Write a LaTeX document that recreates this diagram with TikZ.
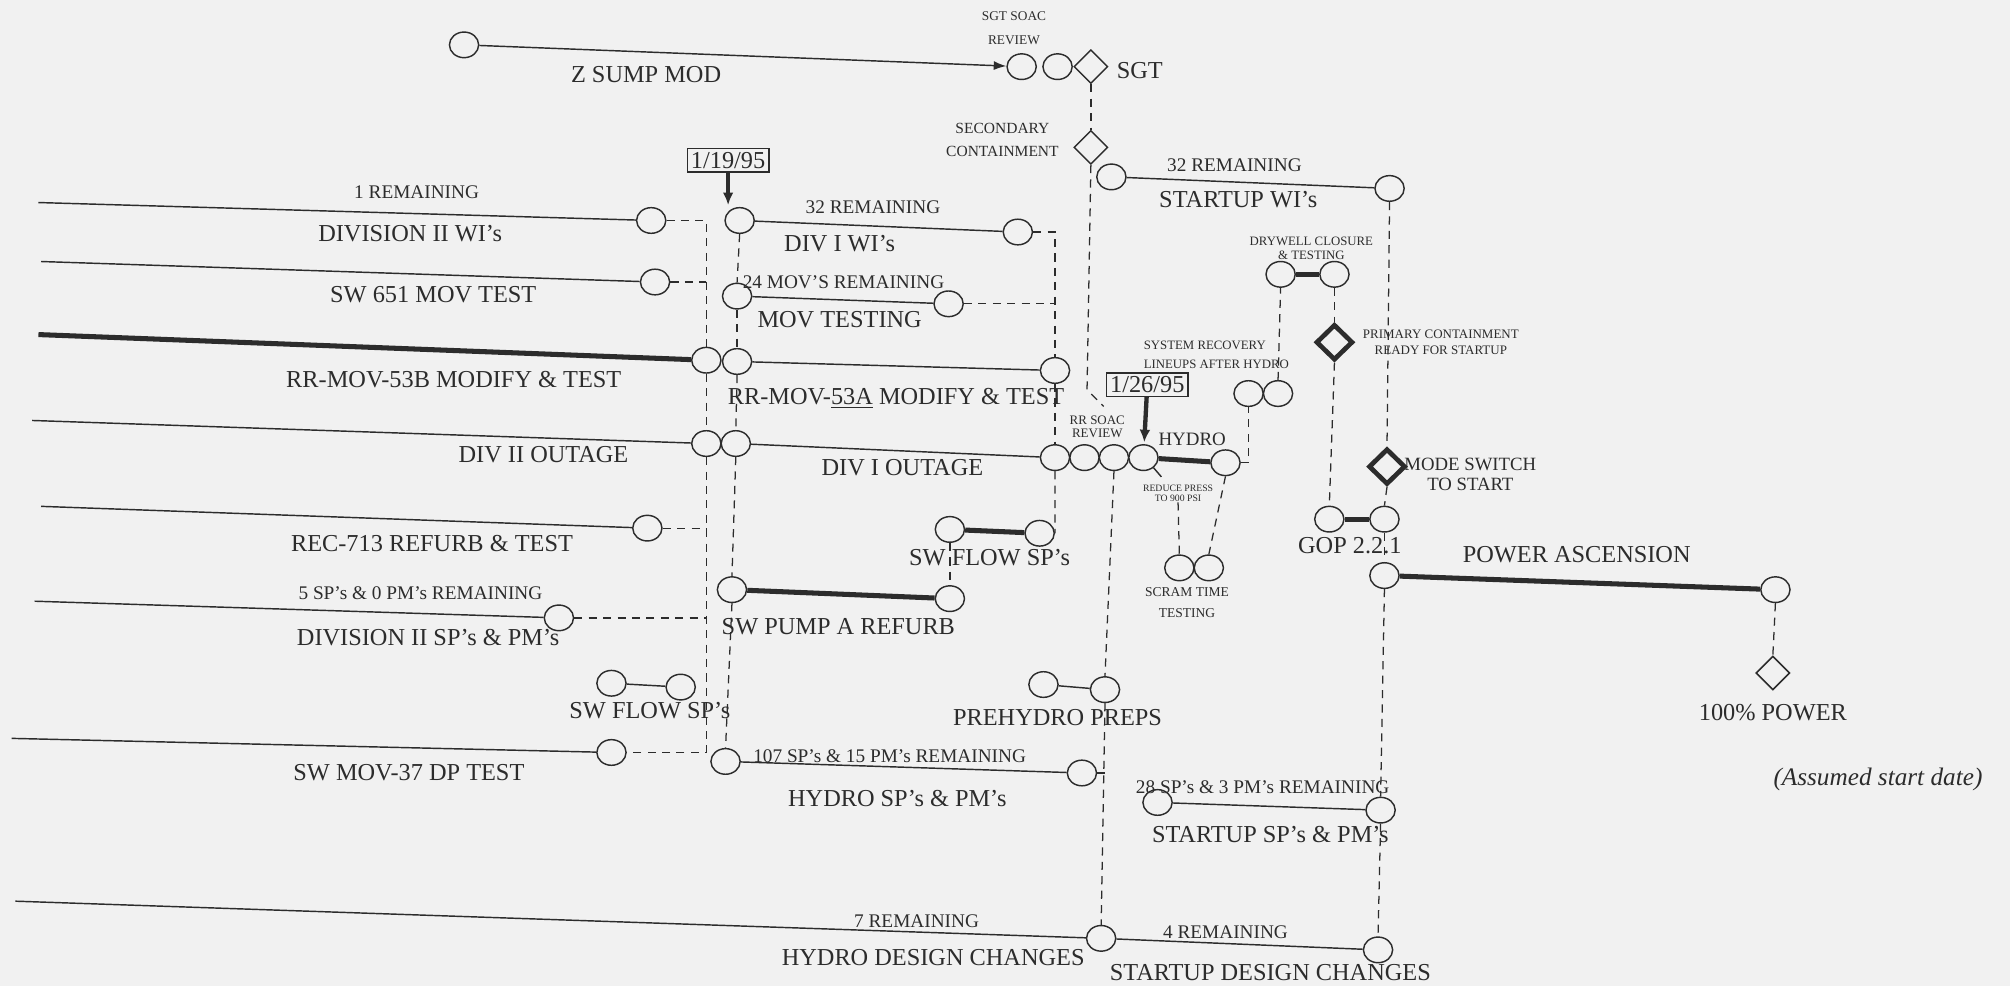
\documentclass[tikz,border=0pt]{standalone}
\usepackage{fontspec}
\setmainfont{Liberation Serif}
\usetikzlibrary{shapes.geometric,arrows.meta}

\definecolor{ink}{HTML}{2C2C2C}
\definecolor{paper}{HTML}{F1F1F1}

\begin{document}
\begin{tikzpicture}[
    x=0.025cm, y=-0.025cm,
    evt/.style={draw=ink, ellipse, line width=0.8pt, fill=paper,
        minimum width=0.57cm, minimum height=0.5cm, inner sep=0pt},
    gate/.style={draw=ink, diamond, line width=0.8pt, fill=paper,
        minimum width=0.66cm, minimum height=0.66cm, inner sep=0pt},
    keygate/.style={gate, line width=2.6pt,
        minimum width=0.72cm, minimum height=0.7cm},
    task/.style={draw=ink, line width=0.8pt},
    crit/.style={draw=ink, line width=2.8pt},
    tie/.style={draw=ink, line width=0.7pt, dash pattern=on 4.5pt off 3.5pt},
    lbl/.style={text=ink, inner sep=0pt, font=\fontsize{13.5}{15}\selectfont},
    rem/.style={text=ink, inner sep=0pt, font=\fontsize{10.7}{12}\selectfont},
    note/.style={text=ink, inner sep=0pt, align=center},
    datebox/.style={draw=ink, line width=0.8pt, text=ink, inner sep=2pt,
        font=\fontsize{13.5}{15}\selectfont},
    datearrow/.style={draw=ink, line width=2.4pt, shorten >=1pt,
        -{Latex[length=7pt,width=6pt]}},
]

% === Page ===
\useasboundingbox (0,0) rectangle (1568,769);
\fill[paper] (0,0) rectangle (1568,769);

% === Z sump mod / SGT ===
\node[evt] (zs) at (362,35) {};
\node[evt] (sg1) at (797,52) {};
\node[evt] (sg2) at (825,52) {};
\node[gate] (sgt) at (851,52) {};
\node[gate] (sec) at (851,115) {};
\node[lbl] (zsL) at (504,58) {Z SUMP MOD};
\node[lbl, anchor=west] (sgtL) at (871,55) {SGT};
\node[note, font=\fontsize{7.4}{13.5}\selectfont] (sgtR) at (791,22)
    {SGT SOAC\\REVIEW};
\node[note, font=\fontsize{8.6}{12.8}\selectfont] (secL) at (782,109)
    {SECONDARY\\CONTAINMENT};

% === Division II rows (left) ===
\coordinate (d2wiS) at (30,158);
\coordinate (sw651S) at (32,204);
\coordinate (b53S) at (30,261);
\coordinate (d2oS) at (25,328);
\coordinate (recS) at (32,395);
\coordinate (d2spS) at (27,469);
\coordinate (mov37S) at (9,576);
\coordinate (hdS) at (12,703);

\node[evt] (d2wi) at (508,172) {};
\node[evt] (sw651) at (511,220) {};
\node[evt] (b53) at (551,281) {};
\node[evt] (d2o) at (551,346) {};
\node[evt] (rec) at (505,412) {};
\node[evt] (d2sp) at (436,482) {};
\node[evt] (swfL1) at (477,533) {};
\node[evt] (swfL2) at (531,536) {};
\node[evt] (mov37) at (477,587) {};

\node[rem] (r1) at (325,150) {1 REMAINING};
\node[lbl] (d2wiL) at (320,182) {DIVISION II WI's};
\node[lbl] (sw651L) at (338,230) {SW 651 MOV TEST};
\node[lbl] (b53L) at (354,296) {RR-MOV-53B MODIFY \& TEST};
\node[lbl] (d2oL) at (424,355) {DIV II OUTAGE};
\node[lbl] (recL) at (337,424) {REC-713 REFURB \& TEST};
\node[rem] (r5) at (328,463) {5 SP's \& 0 PM's REMAINING};
\node[lbl] (d2spL) at (334,497) {DIVISION II SP's \& PM's};
\node[lbl] (swfLL) at (507,554) {SW FLOW SP's};
\node[lbl] (mov37L) at (319,603) {SW MOV-37 DP TEST};

% === Division I rows (middle) ===
\node[evt] (d1wi) at (577,172) {};
\node[evt] (d1we) at (794,181) {};
\node[evt] (mv1) at (575,231) {};
\node[evt] (mve) at (740,237) {};
\node[evt] (a53) at (575,282) {};
\node[evt] (a53e) at (823,289) {};
\node[evt] (d1o) at (574,346) {};
\node[evt] (sf1) at (741,413) {};
\node[evt] (sf2) at (811,416) {};
\node[evt] (swp1) at (571,460) {};
\node[evt] (swp2) at (741,467) {};
\node[evt] (pre1) at (814,534) {};
\node[evt] (pre2) at (862,538) {};
\node[evt] (hsp1) at (566,594) {};
\node[evt] (hsp2) at (844,603) {};
\node[evt] (hd2) at (859,732) {};

\node[datebox] (d119) at (568,125) {1/19/95};
\node[rem] (r32a) at (681,162) {32 REMAINING};
\node[lbl] (d1wiL) at (655,190) {DIV I WI's};
\node[rem] (r24) at (658,220) {24 MOV'S REMAINING};
\node[lbl] (mvL) at (655,249) {MOV TESTING};
\node[lbl] (a53L) at (699,311) {RR-MOV-\underline{53A} MODIFY \& TEST};
\node[lbl] (d1oL) at (704,365) {DIV I OUTAGE};
\node[lbl] (sfL) at (772,435) {SW FLOW SP's};
\node[lbl] (swpL) at (654,489) {SW PUMP A REFURB};
\node[lbl] (preL) at (825,560) {PREHYDRO PREPS};
\node[rem] (r107) at (694,590) {107 SP's \& 15 PM's REMAINING};
\node[lbl] (hspL) at (700,623) {HYDRO SP's \& PM's};
\node[rem] (r7) at (715,719) {7 REMAINING};
\node[lbl] (hdL) at (728,747) {HYDRO DESIGN CHANGES};

% === RR SOAC review / hydro ===
\node[evt] (rr1) at (823,357) {};
\node[evt] (rr2) at (846,357) {};
\node[evt] (rr3) at (869,357) {};
\node[evt] (rr4) at (892,357) {};
\node[evt] (hy2) at (956,361) {};
\node[evt] (sc1) at (920,443) {};
\node[evt] (sc2) at (943,443) {};
\node[evt] (sr1) at (974,307) {};
\node[evt] (sr2) at (997,307) {};

\node[note, font=\fontsize{7.2}{7.4}\selectfont] (rrL) at (856,333)
    {RR SOAC\\REVIEW};
\node[datebox] (d126) at (895,300) {1/26/95};
\node[lbl, font=\fontsize{10.5}{12}\selectfont] (hyL) at (930,343) {HYDRO};
\node[note, font=\fontsize{5.4}{5.8}\selectfont] (rp) at (919,385)
    {REDUCE PRESS\\TO 900 PSI};
\node[note, font=\fontsize{7.5}{11.6}\selectfont] (scL) at (926,470)
    {SCRAM TIME\\TESTING};
\node[note, align=left, anchor=west, font=\fontsize{7.1}{10.6}\selectfont]
    (srL) at (892,277) {SYSTEM RECOVERY\\LINEUPS AFTER HYDRO};

% === Startup (right) ===
\node[evt] (su1) at (867,138) {};
\node[evt] (su2) at (1084,147) {};
\node[evt] (dw1) at (999,214) {};
\node[evt] (dw2) at (1041,214) {};
\node[keygate] (pc) at (1041,267) {};
\node[keygate] (ms) at (1082,364) {};
\node[evt] (gop1) at (1037,405) {};
\node[evt] (gop2) at (1080,405) {};
\node[evt] (pa1) at (1080,449) {};
\node[evt] (pa2) at (1385,460) {};
\node[gate] (pw) at (1383,525) {};
\node[evt] (ss1) at (903,626) {};
\node[evt] (ss2) at (1077,632) {};
\node[evt] (sd2) at (1075,741) {};

\node[rem] (r32b) at (963,129) {32 REMAINING};
\node[lbl] (suL) at (966,156) {STARTUP WI's};
\node[note, font=\fontsize{7.1}{7.8}\selectfont] (dwL) at (1023,194)
    {DRYWELL CLOSURE\\\& TESTING};
\node[note, font=\fontsize{7.2}{9.4}\selectfont] (pcL) at (1124,267)
    {PRIMARY CONTAINMENT\\READY FOR STARTUP};
\node[note, font=\fontsize{10.4}{11}\selectfont] (msL) at (1147,370)
    {MODE SWITCH\\TO START};
\node[lbl] (gopL) at (1053,426) {GOP 2.2.1};
\node[lbl] (paL) at (1230,433) {POWER ASCENSION};
\node[lbl] (pwL) at (1383,556) {100\% POWER};
\node[lbl, font=\fontsize{14}{16}\selectfont\itshape] (hand) at (1465,608)
    {(Assumed start date)};
\node[rem] (r28) at (985,614) {28 SP's \& 3 PM's REMAINING};
\node[lbl] (ssL) at (991,651) {STARTUP SP's \& PM's};
\node[rem] (r4) at (956,727) {4 REMAINING};
\node[lbl] (sdL) at (991,759) {STARTUP DESIGN CHANGES};

% free ends
\coordinate (soacbend) at (848,304);
\coordinate (soacend) at (861,317);
\coordinate (rptick) at (906,372);

% === Activity bars ===
\draw[task, -{Latex[length=7pt,width=5pt]}] (zs) -- (sg1);
\draw[task] (d2wiS) -- (d2wi);
\draw[task] (sw651S) -- (sw651);
\draw[crit] (b53S) -- (b53);
\draw[task] (d2oS) -- (d2o);
\draw[task] (recS) -- (rec);
\draw[task] (d2spS) -- (d2sp);
\draw[task] (swfL1) -- (swfL2);
\draw[task] (mov37S) -- (mov37);
\draw[task] (hdS) -- (hd2);
\draw[task] (d1wi) -- (d1we);
\draw[task] (mv1) -- (mve);
\draw[task] (a53) -- (a53e);
\draw[task] (d1o) -- (rr1);
\draw[crit] (sf1) -- (sf2);
\draw[crit] (swp1) -- (swp2);
\draw[task] (pre1) -- (pre2);
\draw[task] (hsp1) -- (hsp2);
\draw[crit] (rr4) -- (hy2);
\draw[task] (rr4.-45) -- (rptick);
\draw[task] (su1) -- (su2);
\draw[crit] (dw1) -- (dw2);
\draw[crit] (gop1) -- (gop2);
\draw[crit] (pa1) -- (pa2);
\draw[task] (ss1) -- (ss2);
\draw[task] (hd2) -- (sd2);

% date markers
\draw[datearrow] (d119.south) -- (d119.south |- d1wi.north);
\draw[datearrow] (d126) -- (rr4);

% === Logic ties (dashed) ===
\draw[tie] (sgt.south) -- (sec.north);
\draw[tie] (sec.south) -- (soacbend) -- (soacend);

\draw[tie] (d2wi.east) -| (b53.north);
\draw[tie] (sw651.east) -- (sw651.east -| b53.north);
\draw[tie] (b53.south) -- (d2o.north);
\draw[tie] (d2o.south) |- (mov37.east);
\draw[tie] (rec.east) -- (rec.east -| d2o.south);
\draw[tie] (d2sp.east) -- (d2sp.east -| d2o.south);

\draw[tie] (d1wi.south) -- (mv1.north);
\draw[tie] (mv1.south) -- (a53.north);
\draw[tie] (a53.south) -- (d1o.north);
\draw[tie] (d1o.south) -- (swp1.north);
\draw[tie] (swp1.south) -- (hsp1.north);

\draw[tie] (d1we.east) -| (a53e.north);
\draw[tie] (mve.east) -- (mve.east -| a53e.north);
\draw[tie] (a53e.south) -- (rr1.north);
\draw[tie] (rr1.south) -- (sf2.east);
\draw[tie] (sf1.south) -- (swp2.north);

\draw[tie] (rr3.south) -- (pre2.north);
\draw[tie] (pre2.south) -- (hd2.north);
\draw[tie] (hsp2.east) -- (hsp2.east -| pre2.south);

\draw[tie] (hy2.east) -| (sr1.south);
\draw[tie] (hy2.south) -- (sc2.north);
\draw[tie] (rp.south) -- (sc1.north);
\draw[tie] (sr2.north) -- (dw1.south);

\draw[tie] (dw2.south) -- (pc.north);
\draw[tie] (pc.south) -- (gop1.north);
\draw[tie] (su2.south) -- (ms.north);
\draw[tie] (ms.south) -- (gop2.north);
\draw[tie] (gop2.south) -- (pa1.north);
\draw[tie] (pa1.south) -- (ss2.north);
\draw[tie] (ss2.south) -- (sd2.north);
\draw[tie] (pa2.south) -- (pw.north);

\end{tikzpicture}
\end{document}
